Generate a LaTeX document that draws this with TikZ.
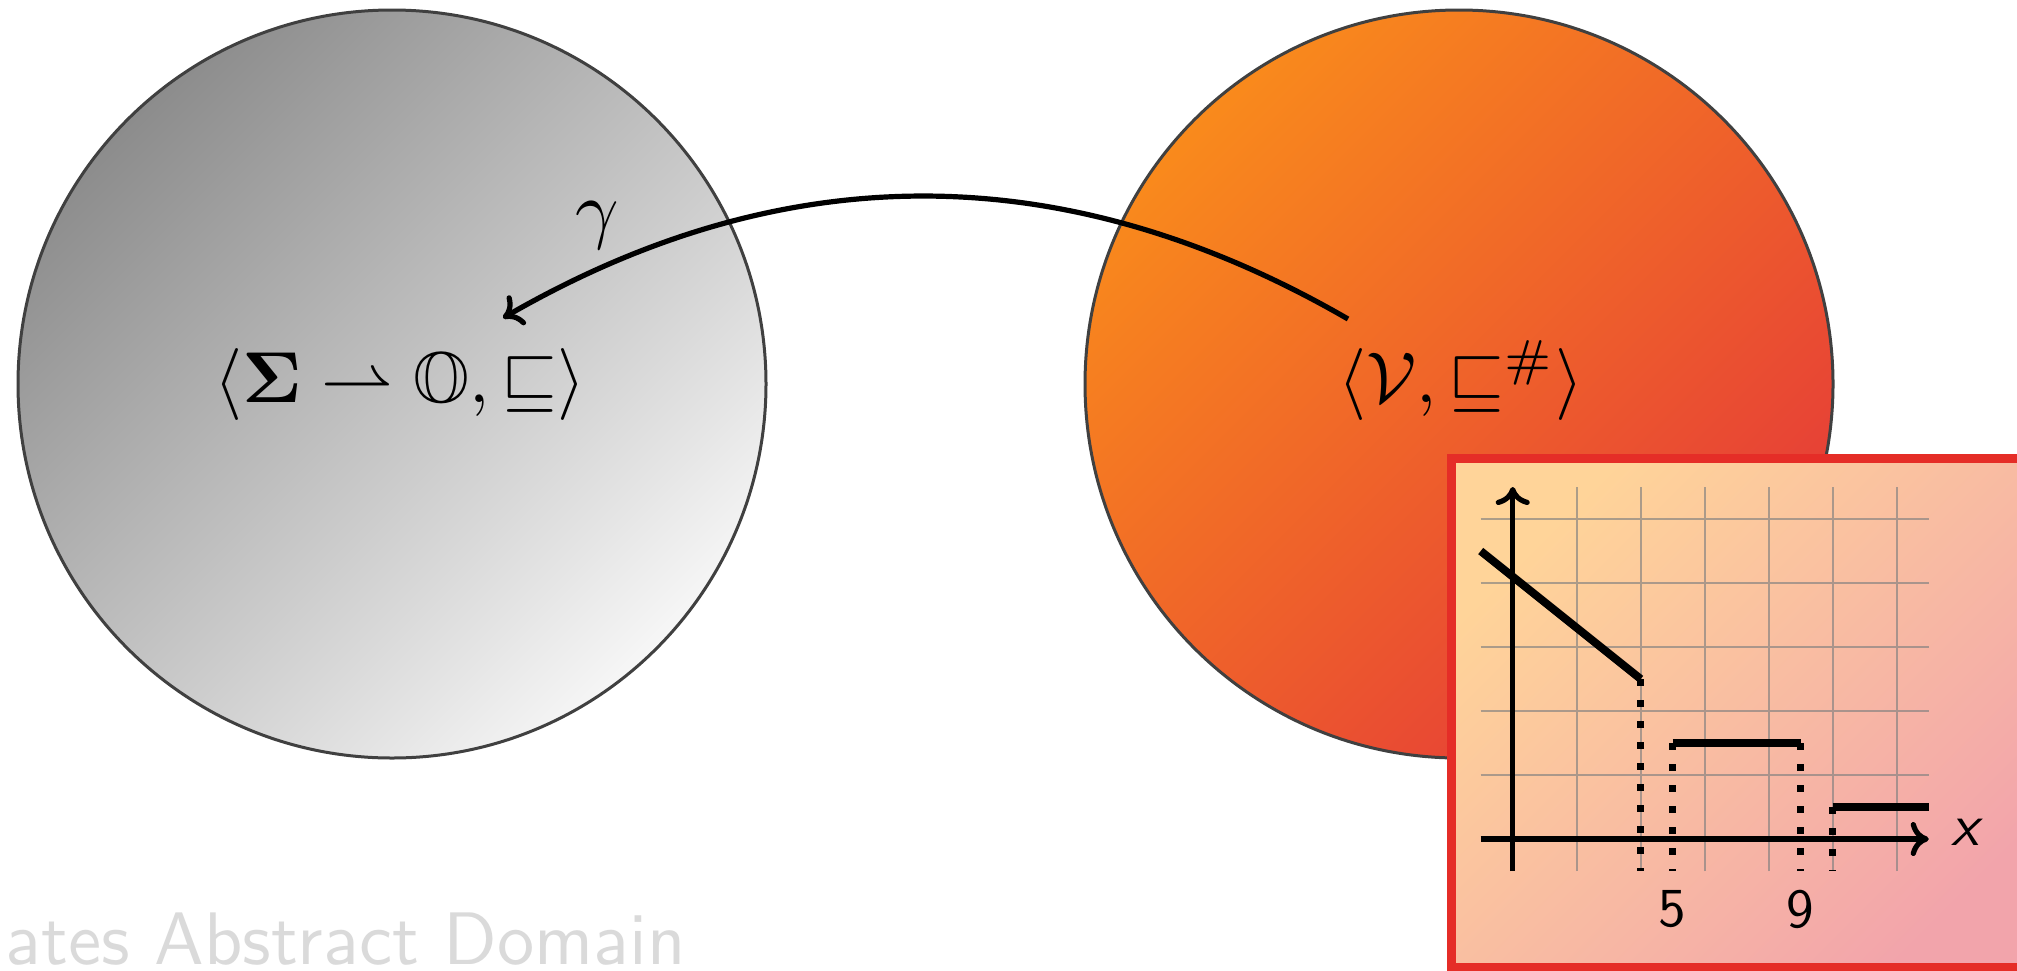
\documentclass[tikz,border=0pt]{standalone}
\usepackage{amsmath,amssymb}
\usetikzlibrary{arrows.meta}
\definecolor{gdark}{HTML}{8C8C8C}
\definecolor{glight}{HTML}{F6F6F6}
\definecolor{oTop}{HTML}{F98A1C}
\definecolor{oBot}{HTML}{E53B38}
\definecolor{pTop}{HTML}{FFD499}
\definecolor{pBot}{HTML}{F2A4AB}
\definecolor{boxred}{HTML}{E52D27}
\definecolor{titlegray}{HTML}{DADADA}
\definecolor{rimgray}{HTML}{404040}
\begin{document}
\begin{tikzpicture}[x=0.5pt,y=-0.5pt,
  ball/.style={line width=1.5pt, draw=rimgray},
  mathlbl/.style={inner sep=0pt, anchor=base, font=\fontsize{10}{12}\selectfont, scale=3.6},
  cmtip/.style={-{Computer Modern Rightarrow[length=9pt,width=17pt]}},
  garrow/.style={cmtip, line width=2.6pt, black},
  gridline/.style={draw=gray, opacity=0.65, line width=0.8pt},
  axisline/.style={cmtip, line width=2.6pt, black},
  valueline/.style={line width=4pt, black},
  dropline/.style={line width=3.4pt, black, dash pattern=on 3.4pt off 7.1pt},
  ticklbl/.style={inner sep=0pt, font=\fontsize{10}{12}\selectfont\sffamily, scale=2.75}]
\useasboundingbox (0,0) rectangle (2017,970);
\fill[white] (0,0) rectangle (2017,970);

% two domains
\shadedraw[ball, top color=gdark, bottom color=glight, shading angle=45] (392,384) circle[radius=374];
\shadedraw[ball, top color=oTop, bottom color=oBot, shading angle=45] (1459,384) circle[radius=374];

\node[mathlbl] (conc) at (400,402) {$\langle \mathbf{\Sigma} \rightharpoonup \mathbb{O}, \sqsubseteq\rangle$};
\node[mathlbl] (abs) at (1461,402) {$\langle \mathcal{V}, \sqsubseteq^{\#}\rangle$};

% concretisation arrow
\coordinate (gstart) at (1348,319);
\coordinate (gend) at (503,318);
\draw[garrow] (gstart) .. controls (1066.7,156.3) and (785.3,155) .. (gend);
\node[inner sep=0pt, font=\fontsize{10}{12}\selectfont, scale=3.8] (gamma) at (597,226) {$\gamma$};

% inset
\shadedraw[draw=boxred, line width=4.5pt, top color=pTop, bottom color=pBot, shading angle=45] (1451.5,458.5) rectangle (2060,967);

\begin{scope}[shift={(1512.7,839)}, x=32pt, y=32pt]
  \draw[gridline, step=1] (-0.5,-0.5) grid (6.5,5.5);
  \draw[axisline] (-0.5,0) -- (6.5,0);
  \draw[axisline] (0,-0.5) -- (0,5.5);
  \draw[valueline] (-0.5,4.5) -- (2,2.5);
  \draw[valueline] (2.5,1.5) -- (4.5,1.5);
  \draw[valueline] (5,0.5) -- (6.5,0.5);
  \draw[dropline] (2,2.5) -- (2,-0.5);
  \draw[dropline] (2.5,1.5) -- (2.5,-0.5);
  \draw[dropline] (4.5,1.5) -- (4.5,-0.5);
  \draw[dropline] (5,0.5) -- (5,-0.5);
  \node[ticklbl] (t5) at (2.5,-1.1) {5};
  \node[ticklbl] (t9) at (4.5,-1.1) {9};
  \node[ticklbl, font=\fontsize{10}{12}\selectfont\sffamily\itshape, scale=1.08] (xl) at (7.07,0.1) {x};
\end{scope}

\node[anchor=base west, inner sep=0pt, text=titlegray, font=\fontsize{10}{12}\selectfont\sffamily, scale=3.72] (title) at (4,964) {ates Abstract Domain};
\end{tikzpicture}
\end{document}
